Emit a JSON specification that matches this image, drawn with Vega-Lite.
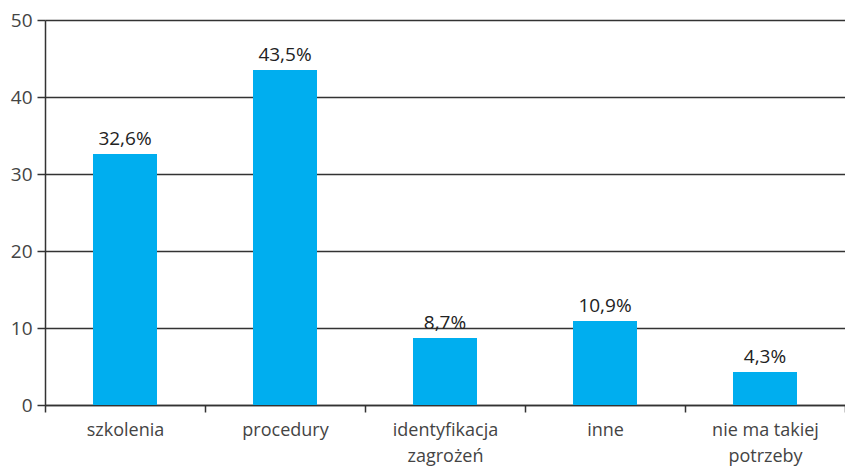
{
  "$schema": "https://vega.github.io/schema/vega-lite/v6.json",
  "width": 800,
  "height": 385,
  "autosize": {"type": "none"},
  "padding": {"left": 45, "top": 20, "right": 0, "bottom": 64},
  "background": "white",
  "config": {"view": {"stroke": null}, "font": "Open Sans"},
  "data": {"values": [
    {"kategoria": "szkolenia", "wartosc": 32.6, "etykieta": "32,6%"},
    {"kategoria": "procedury", "wartosc": 43.5, "etykieta": "43,5%"},
    {"kategoria": "identyfikacja zagrożeń", "wartosc": 8.7, "etykieta": "8,7%"},
    {"kategoria": "inne", "wartosc": 10.9, "etykieta": "10,9%"},
    {"kategoria": "nie ma takiej potrzeby", "wartosc": 4.3, "etykieta": "4,3%"}
  ]},
  "encoding": {
    "x": {"field": "kategoria", "type": "nominal", "sort": null,
      "scale": {"paddingInner": 0, "paddingOuter": 0},
      "axis": {"title": null, "labelAngle": 0, "tickBand": "extent", "tickSize": 7, "tickColor": "#333", "tickWidth": 1.5,
        "domainColor": "#333", "domainWidth": 1.5, "labelPadding": 9, "labelFontSize": 18, "labelColor": "#444",
        "labelLineHeight": 26, "labelBaseline": "top",
        "labelExpr": "datum.label == 'identyfikacja zagrożeń' ? ['identyfikacja', 'zagrożeń'] : datum.label == 'nie ma takiej potrzeby' ? ['nie ma takiej', 'potrzeby'] : datum.label"}},
    "y": {"field": "wartosc", "type": "quantitative",
      "scale": {"domain": [0, 50]},
      "axis": {"title": null, "values": [0, 10, 20, 30, 40, 50], "grid": true, "gridColor": "#333", "gridWidth": 1.5,
        "tickSize": 8, "tickColor": "#333", "tickWidth": 1.5, "domainColor": "#333", "domainWidth": 1.5,
        "labelFontSize": 19, "labelColor": "#444", "labelPadding": 5}}
  },
  "layer": [
    {"mark": {"type": "bar", "color": "#00AEEF", "width": {"band": 0.4}}},
    {"mark": {"type": "text", "baseline": "bottom", "dy": -5, "fontSize": 19, "color": "#222"},
      "encoding": {"text": {"field": "etykieta"}}}
  ]
}
